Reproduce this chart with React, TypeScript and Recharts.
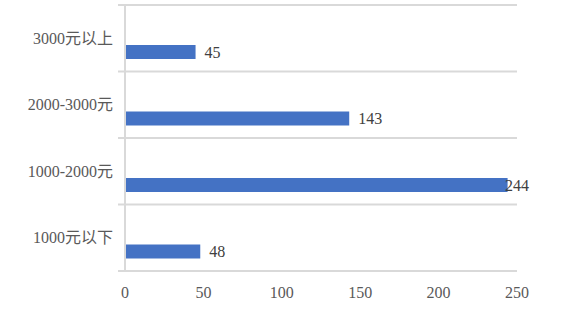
import { BarChart, Bar, XAxis, YAxis, CartesianGrid, LabelList } from 'recharts';

const categories = ['3000元以上', '2000-3000元', '1000-2000元', '1000元以下'];
const counts = [45, 143, 244, 48];
const xTicks = [0, 50, 100, 150, 200, 250];

const data = categories.map((name, i) => ({ name, count: counts[i] }));

const FONT = '"Liberation Serif", "Noto Sans CJK SC", serif';
const AXIS_X = 125;
const LABEL_MAX_X = 505;

function CategoryTick(props: any) {
  const { x, y, payload } = props;
  const half = payload.offset || 33.25;
  return (
    <g>
      <line x1={AXIS_X - 7} x2={AXIS_X} y1={y - half} y2={y - half} stroke="#d9d9d9" strokeWidth={2} />
      {payload.index === categories.length - 1 && (
        <line x1={AXIS_X - 7} x2={AXIS_X} y1={y + half} y2={y + half} stroke="#d9d9d9" strokeWidth={2} />
      )}
      <text x={x} y={y} textAnchor="end" dominantBaseline="central" fill="#595959" fontSize={16} fontFamily={FONT}>
        {payload.value}
      </text>
    </g>
  );
}

function ValueLabel(props: any) {
  const { x, y, width, height, value } = props;
  const tx = Math.min(x + width + 9, LABEL_MAX_X);
  return (
    <text x={tx} y={y + height / 2} dominantBaseline="central" fill="#404040" fontSize={16} fontFamily={FONT}>
      {value}
    </text>
  );
}

export default function App() {
  return (
    <div style={{ position: 'absolute', left: 0, top: 0, background: '#fff' }}>
      <BarChart
        width={586}
        height={311}
        data={data}
        layout="vertical"
        margin={{ top: 5, right: 69, bottom: 10, left: 0 }}
        barGap={14}
      >
        <CartesianGrid
          vertical={false}
          stroke="#d9d9d9"
          strokeWidth={2}
          horizontalCoordinatesGenerator={({ offset }: any) =>
            [0, 1, 2, 3, 4].map((i) => offset.top + (offset.height * i) / categories.length)
          }
        />
        <XAxis
          type="number"
          domain={[0, 250]}
          ticks={xTicks}
          tickLine={false}
          axisLine={false}
          height={30}
          tickMargin={10}
          tick={{ fontSize: 16, fontFamily: FONT, fill: '#595959' }}
        />
        <YAxis
          type="category"
          dataKey="name"
          width={125}
          tickLine={false}
          tickMargin={6}
          axisLine={{ stroke: '#d9d9d9', strokeWidth: 2 }}
          tick={<CategoryTick />}
        />
        <Bar dataKey="blank" barSize={14} fill="none" isAnimationActive={false} />
        <Bar dataKey="count" barSize={14} fill="#4472c4" isAnimationActive={false}>
          <LabelList dataKey="count" content={<ValueLabel />} />
        </Bar>
      </BarChart>
    </div>
  );
}
